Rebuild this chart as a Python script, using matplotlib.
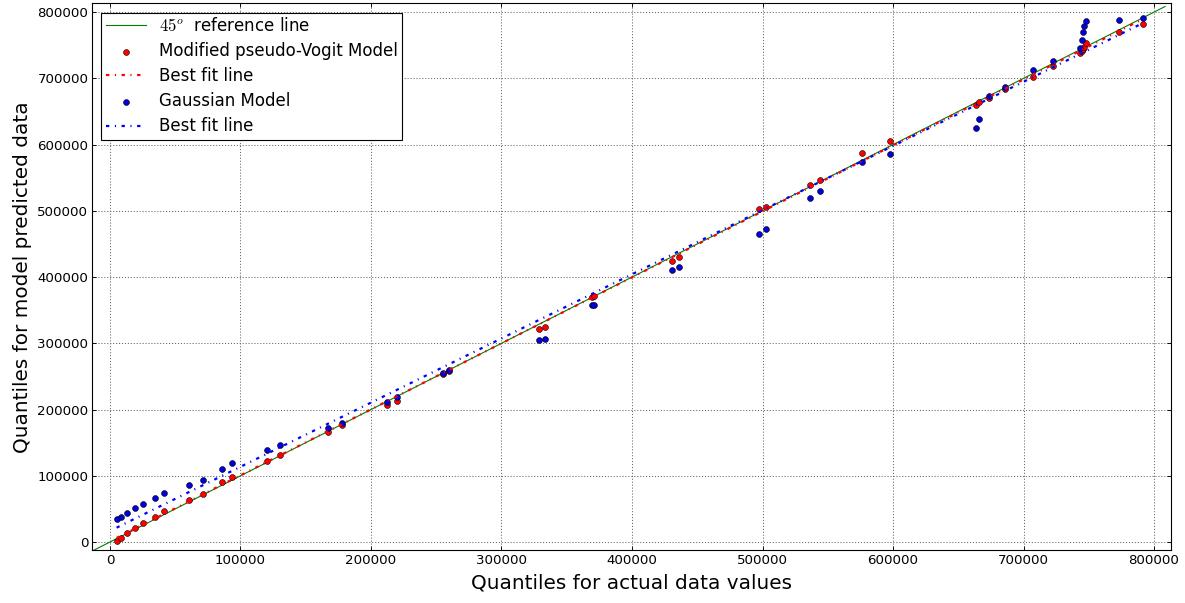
import numpy as np
import matplotlib
matplotlib.use("Agg")
import matplotlib.pyplot as plt

plt.rcParams['mathtext.fontset'] = 'cm'
plt.rcParams['lines.scale_dashes'] = False
plt.rcParams['font.family'] = ['DejaVu Sans']

# Quantiles of actual data
actual_q = [5100, 8400, 13300, 19200, 25000, 34500, 41400, 60300, 71000, 86100,
            93200, 120300, 130000, 167300, 178000, 212500, 219700, 255000, 260000,
            329000, 333100, 369100, 371100, 430900, 436000, 497300, 502400, 536400,
            543800, 576500, 597700, 663300, 666200, 673800, 685800, 707500, 722400,
            743500, 744500, 745400, 746600, 747700, 773200, 791400]

# Modified pseudo-Voigt model quantiles
pv_q = [1500, 6500, 14000, 21100, 28700, 38200, 47300, 63400, 73000, 90200,
        98600, 122400, 131000, 166200, 176700, 207300, 213000, 254000, 258500,
        321800, 325200, 369600, 371600, 424500, 430500, 502600, 506500, 538800,
        546800, 587200, 605300, 659700, 663600, 671000, 684300, 702400, 718000,
        738500, 741700, 744500, 746700, 753300, 770400, 781400]

# Gaussian model quantiles
gauss_q = [34300, 38200, 43400, 50900, 56900, 66900, 74500, 86600, 93700, 110700,
           118900, 139000, 147000, 172700, 180200, 212000, 218600, 255700, 260300,
           304700, 306600, 357600, 358500, 410900, 415000, 464800, 472400, 520100,
           530200, 573600, 585600, 625400, 638500, 672700, 686900, 712500, 726100,
           745800, 757900, 770400, 779000, 786600, 788600, 791500]

ref_line = [-20000, 808500]

x = np.array(actual_q, dtype=float)
pv = np.array(pv_q, dtype=float)
ga = np.array(gauss_q, dtype=float)

fig = plt.figure(figsize=(1185/80, 603/80), dpi=80, facecolor='white')
ax = fig.add_axes([0.0779, 0.0879, 0.9103, 0.9063])

ax.plot(ref_line, ref_line, color='green', lw=1.0, label=r'$45^o$  reference line', zorder=2)
ax.scatter(x, pv, s=28, c='red', edgecolors='black', linewidths=0.5,
           label='Modified pseudo-Vogit Model', zorder=3)
p1 = np.polyfit(x, pv, 1)
xf = np.array([x.min(), x.max()])
ax.plot(xf, np.polyval(p1, xf), color='red', lw=2, ls=(0, (3, 5, 1, 5)),
        label='Best fit line', zorder=4)
ax.scatter(x, ga, s=28, c='#0000dd', edgecolors='black', linewidths=0.5,
           label='Gaussian Model', zorder=3)
p2 = np.polyfit(x, ga, 1)
ax.plot(xf, np.polyval(p2, xf), color='blue', lw=2, ls=(0, (3, 5, 1, 5)),
        label='Best fit line', zorder=4)

ax.set_xlim(-13500, 813000)
ax.set_ylim(-12000, 813000)
ax.set_xticks(np.arange(0, 800001, 100000))
ax.set_yticks(np.arange(0, 800001, 100000))
ax.grid(True, color='0.35', ls=':', lw=0.8)
ax.set_axisbelow(True)
ax.tick_params(direction='in', top=True, right=True, labelsize=12, length=4, width=0.8)
for s in ax.spines.values():
    s.set_linewidth(1.0)
    s.set_color('black')

ax.set_xlabel('Quantiles for actual data values', fontsize=18, labelpad=6)
ax.set_ylabel('Quantiles for model predicted data', fontsize=18, labelpad=5)

leg = ax.legend(loc='upper left', fontsize=15, scatterpoints=1, numpoints=1,
                fancybox=False, framealpha=1, edgecolor='black', borderaxespad=0.55,
                borderpad=0.25, labelspacing=0.43, handlelength=2.4, handletextpad=0.8)
leg.get_frame().set_linewidth(1.0)

fig.savefig('out.png', dpi=80, facecolor='white')
